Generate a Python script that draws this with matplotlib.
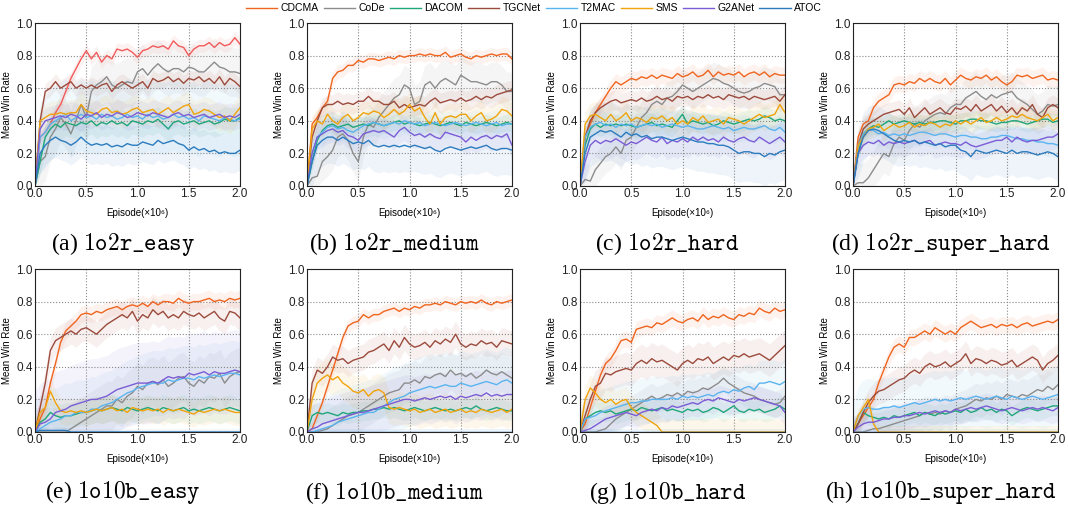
import numpy as np
import matplotlib
matplotlib.use("Agg")
import matplotlib.pyplot as plt

plt.rcParams["mathtext.fontset"] = "cm"
sans = ["Liberation Sans Narrow", "Liberation Sans", "DejaVu Sans"]

methods = ["CDCMA", "CoDe", "DACOM", "TGCNet", "T2MAC", "SMS", "G2ANet", "ATOC"]
colors = ["#f0641e", "#8c8c8c", "#1fa67a", "#9c4a3c", "#5ab4ef", "#f0a30a", "#7b5cd6", "#2b7bbf"]
episodes = np.linspace(0, 2.0, 41)  # x 10^6

# mean win rate in percent, one row per method (order as in `methods`)
r_easy = [
    [0, 30, 33, 38, 45, 50, 58, 66, 72, 78, 83, 78, 82, 76, 80, 78, 84, 83, 84, 82, 79, 83, 84, 86, 85, 86, 84, 89, 86, 85, 80, 84, 86, 86, 88, 85, 88, 86, 87, 91, 87],
    [0, 15, 18, 30, 35, 42, 38, 32, 40, 50, 42, 58, 62, 64, 67, 62, 60, 62, 64, 63, 70, 72, 68, 72, 75, 72, 70, 72, 72, 70, 73, 72, 70, 70, 73, 76, 73, 72, 70, 70, 69],
    [0, 15, 30, 35, 38, 36, 39, 38, 37, 39, 38, 40, 37, 39, 38, 40, 38, 39, 37, 40, 39, 38, 40, 39, 41, 38, 35, 39, 40, 38, 39, 40, 38, 39, 40, 38, 39, 41, 40, 40, 42],
    [0, 40, 58, 60, 64, 60, 62, 64, 60, 62, 60, 62, 60, 62, 63, 58, 62, 64, 62, 60, 62, 64, 60, 66, 64, 65, 67, 64, 66, 63, 66, 65, 67, 64, 66, 63, 67, 62, 66, 64, 61],
    [0, 30, 33, 38, 40, 42, 44, 40, 42, 44, 42, 43, 41, 44, 42, 43, 41, 42, 44, 42, 43, 41, 44, 42, 43, 41, 42, 44, 42, 43, 41, 42, 40, 43, 42, 41, 40, 42, 41, 40, 41],
    [0, 40, 42, 44, 44, 45, 44, 45, 45, 50, 46, 45, 44, 47, 48, 45, 46, 44, 45, 47, 48, 45, 46, 47, 44, 46, 48, 45, 47, 49, 50, 44, 45, 47, 46, 44, 42, 43, 40, 44, 48],
    [0, 35, 40, 41, 42, 43, 42, 44, 43, 41, 44, 43, 45, 42, 44, 43, 45, 44, 42, 43, 45, 44, 43, 45, 44, 43, 42, 44, 45, 43, 44, 42, 43, 44, 42, 43, 44, 42, 43, 42, 44],
    [0, 20, 25, 28, 30, 28, 27, 25, 27, 30, 27, 25, 26, 25, 26, 24, 25, 24, 26, 25, 25, 27, 26, 25, 28, 26, 27, 28, 26, 25, 22, 24, 22, 23, 21, 22, 20, 21, 20, 20, 22],
]
r_easy_sd = [4, 15, 8, 5, 22, 8, 8, 12]

r_medium = [
    [0, 38, 42, 48, 52, 66, 70, 71, 74, 74, 77, 76, 78, 78, 77, 78, 79, 78, 80, 79, 80, 80, 81, 80, 81, 80, 80, 82, 79, 80, 81, 79, 78, 80, 79, 80, 81, 80, 81, 81, 78],
    [0, 5, 6, 15, 18, 22, 30, 32, 28, 20, 15, 30, 38, 36, 42, 46, 50, 54, 56, 62, 60, 50, 52, 62, 64, 60, 64, 66, 64, 62, 68, 66, 64, 64, 63, 62, 64, 64, 62, 58, 58],
    [0, 15, 28, 34, 37, 38, 36, 37, 38, 36, 37, 38, 37, 39, 38, 37, 38, 39, 40, 38, 39, 38, 37, 38, 39, 38, 37, 38, 39, 38, 37, 39, 38, 37, 38, 39, 38, 37, 38, 39, 38],
    [0, 30, 40, 48, 50, 50, 52, 50, 51, 50, 52, 52, 55, 52, 52, 50, 50, 52, 48, 50, 48, 49, 50, 49, 52, 54, 51, 52, 53, 52, 54, 52, 53, 55, 53, 55, 54, 56, 57, 58, 59],
    [0, 20, 30, 33, 36, 37, 35, 36, 34, 33, 35, 37, 38, 39, 38, 37, 38, 39, 38, 40, 39, 38, 39, 37, 38, 39, 38, 37, 38, 39, 38, 37, 38, 39, 38, 37, 38, 39, 37, 38, 38],
    [0, 35, 40, 38, 44, 40, 38, 42, 44, 40, 42, 45, 44, 46, 45, 42, 44, 47, 44, 46, 50, 46, 48, 42, 38, 45, 38, 42, 43, 42, 44, 44, 40, 43, 45, 40, 41, 43, 47, 46, 43],
    [0, 20, 30, 32, 34, 35, 33, 34, 31, 30, 28, 32, 33, 34, 33, 34, 32, 30, 34, 36, 33, 31, 32, 30, 32, 30, 29, 33, 32, 31, 30, 27, 30, 28, 30, 31, 29, 31, 30, 32, 25],
    [0, 15, 25, 28, 30, 30, 28, 30, 28, 26, 27, 26, 28, 25, 24, 25, 24, 25, 24, 25, 24, 25, 24, 23, 24, 22, 21, 23, 24, 23, 22, 23, 24, 23, 24, 25, 23, 22, 23, 23, 22],
]
r_medium_sd = [4, 12, 5, 6, 8, 8, 8, 16]

r_hard = [
    [0, 30, 38, 45, 50, 55, 60, 64, 62, 64, 66, 65, 67, 66, 68, 66, 68, 67, 66, 69, 67, 68, 70, 67, 68, 71, 67, 70, 68, 69, 68, 70, 67, 69, 70, 68, 70, 67, 69, 68, 68],
    [0, 4, 3, 10, 14, 18, 20, 24, 20, 28, 30, 36, 42, 45, 50, 52, 50, 54, 55, 58, 62, 60, 58, 60, 62, 64, 66, 65, 63, 62, 60, 58, 57, 58, 60, 61, 63, 62, 61, 56, 56],
    [0, 25, 35, 38, 36, 38, 37, 38, 37, 38, 37, 36, 37, 38, 39, 37, 38, 37, 36, 40, 44, 38, 40, 39, 38, 39, 37, 38, 40, 39, 38, 39, 40, 41, 40, 41, 43, 42, 40, 41, 40],
    [0, 30, 40, 45, 48, 50, 52, 53, 51, 52, 53, 52, 54, 52, 53, 55, 53, 54, 52, 55, 54, 55, 53, 55, 54, 56, 54, 55, 53, 56, 55, 54, 55, 53, 55, 54, 53, 54, 55, 52, 56],
    [0, 30, 36, 38, 39, 37, 38, 36, 38, 37, 38, 36, 37, 38, 37, 38, 36, 37, 38, 37, 36, 37, 36, 35, 35, 36, 37, 36, 35, 36, 34, 35, 36, 35, 35, 36, 37, 35, 34, 36, 33],
    [0, 38, 43, 44, 42, 40, 44, 40, 42, 45, 40, 42, 41, 39, 42, 41, 43, 40, 42, 38, 40, 38, 42, 40, 43, 39, 40, 41, 38, 42, 41, 40, 38, 40, 42, 44, 42, 43, 44, 50, 45],
    [0, 15, 25, 28, 26, 28, 27, 29, 27, 25, 27, 26, 28, 30, 28, 27, 30, 26, 28, 27, 29, 27, 30, 28, 30, 28, 29, 27, 30, 28, 27, 29, 30, 28, 27, 30, 28, 26, 28, 30, 27],
    [0, 20, 30, 32, 34, 33, 34, 32, 30, 33, 31, 32, 30, 31, 29, 30, 30, 29, 28, 29, 30, 29, 28, 27, 27, 26, 26, 25, 25, 24, 22, 20, 21, 21, 20, 20, 18, 20, 19, 21, 22],
]
r_hard_sd = [5, 10, 6, 6, 8, 8, 10, 18]

r_super = [
    [0, 30, 38, 40, 48, 52, 54, 56, 62, 63, 62, 64, 63, 66, 64, 66, 64, 63, 66, 62, 65, 68, 66, 65, 67, 66, 68, 65, 67, 64, 62, 64, 68, 67, 68, 66, 67, 68, 65, 66, 65],
    [0, 2, 2, 5, 10, 15, 20, 18, 26, 30, 28, 34, 38, 36, 40, 42, 44, 45, 44, 48, 50, 50, 54, 56, 58, 55, 53, 56, 54, 56, 57, 58, 54, 52, 50, 47, 44, 46, 50, 49, 50],
    [0, 20, 32, 35, 37, 36, 38, 40, 38, 39, 40, 39, 38, 39, 38, 39, 39, 40, 40, 39, 38, 40, 40, 41, 41, 40, 40, 39, 38, 39, 39, 40, 40, 39, 38, 39, 40, 41, 41, 39, 40],
    [0, 25, 35, 38, 40, 42, 44, 45, 46, 47, 44, 48, 42, 45, 48, 44, 46, 48, 45, 44, 48, 47, 49, 46, 50, 46, 48, 50, 46, 49, 45, 48, 44, 48, 46, 50, 44, 42, 48, 50, 48],
    [0, 25, 32, 35, 34, 32, 33, 31, 32, 31, 32, 31, 32, 33, 33, 32, 31, 32, 32, 31, 30, 31, 31, 30, 30, 29, 29, 30, 30, 31, 31, 30, 29, 29, 28, 28, 27, 27, 26, 26, 25],
    [0, 25, 30, 35, 36, 38, 34, 36, 38, 36, 37, 39, 36, 38, 37, 39, 38, 36, 38, 37, 40, 38, 40, 38, 40, 42, 39, 40, 42, 40, 41, 43, 42, 44, 42, 41, 40, 42, 44, 40, 42],
    [0, 20, 25, 27, 26, 28, 25, 27, 26, 27, 26, 27, 28, 26, 27, 28, 25, 26, 27, 26, 26, 25, 27, 25, 24, 25, 26, 27, 28, 28, 30, 27, 30, 28, 27, 28, 28, 29, 30, 30, 32],
    [0, 20, 30, 34, 35, 34, 32, 30, 28, 27, 28, 27, 28, 26, 27, 26, 25, 26, 24, 25, 25, 22, 21, 18, 22, 21, 20, 21, 22, 21, 20, 22, 20, 21, 21, 20, 19, 20, 21, 20, 18],
]
r_super_sd = [5, 12, 5, 6, 8, 6, 8, 15]

b_easy = [
    [0, 8, 15, 30, 42, 55, 62, 65, 68, 72, 73, 72, 74, 73, 75, 76, 77, 75, 77, 78, 77, 79, 77, 80, 78, 80, 80, 79, 82, 80, 79, 80, 80, 81, 82, 80, 81, 80, 82, 81, 82],
    [0, 0, 0, 0, 0, 0, 0, 2, 4, 6, 8, 10, 12, 14, 16, 16, 20, 18, 22, 24, 28, 26, 30, 31, 29, 32, 28, 30, 33, 34, 30, 28, 32, 30, 34, 33, 36, 30, 34, 36, 37],
    [0, 6, 8, 12, 10, 9, 10, 10, 11, 12, 12, 13, 14, 13, 14, 15, 14, 13, 15, 14, 13, 14, 15, 14, 13, 15, 14, 13, 14, 15, 13, 14, 13, 14, 15, 14, 13, 14, 15, 14, 13],
    [0, 15, 30, 50, 56, 58, 60, 62, 60, 63, 64, 62, 60, 63, 66, 68, 70, 72, 70, 74, 68, 72, 70, 75, 72, 74, 70, 72, 70, 74, 72, 71, 73, 70, 72, 74, 70, 68, 74, 73, 70],
    [0, 2, 4, 6, 7, 8, 10, 10, 12, 12, 12, 14, 14, 16, 17, 18, 20, 22, 24, 25, 27, 28, 29, 30, 30, 30, 32, 31, 32, 33, 33, 32, 34, 33, 34, 35, 34, 35, 36, 36, 35],
    [0, 12, 15, 25, 18, 13, 12, 13, 12, 13, 12, 13, 14, 13, 14, 15, 13, 14, 12, 15, 14, 13, 14, 13, 14, 12, 14, 13, 14, 13, 12, 11, 13, 12, 13, 14, 13, 14, 13, 12, 12],
    [0, 5, 6, 8, 12, 13, 14, 16, 17, 18, 19, 20, 20, 21, 22, 24, 26, 27, 28, 29, 30, 30, 30, 31, 30, 32, 34, 33, 34, 33, 36, 35, 36, 37, 35, 37, 36, 36, 37, 38, 37],
    [0, 1, 1, 1, 1, 1, 1] + [0] * 34,
]
b_easy_sd = [5, 15, 8, 8, 20, 8, 25, 2]

b_medium = [
    [0, 2, 10, 18, 28, 38, 48, 58, 65, 67, 68, 72, 70, 72, 72, 74, 75, 76, 74, 76, 75, 77, 76, 78, 78, 79, 78, 80, 79, 78, 80, 79, 80, 79, 81, 79, 78, 80, 79, 80, 81],
    [0, 0, 0, 1, 2, 4, 6, 8, 10, 11, 12, 14, 16, 18, 20, 22, 24, 25, 26, 30, 30, 32, 30, 34, 33, 35, 36, 34, 38, 35, 36, 34, 36, 33, 35, 38, 36, 35, 37, 35, 33],
    [0, 10, 12, 11, 12, 11, 10, 12, 11, 12, 12, 13, 13, 14, 14, 15, 14, 15, 14, 13, 14, 15, 14, 13, 14, 15, 14, 13, 14, 13, 14, 15, 14, 16, 14, 13, 14, 15, 14, 13, 13],
    [0, 30, 38, 36, 40, 46, 44, 45, 42, 44, 45, 46, 49, 50, 52, 54, 50, 56, 52, 58, 54, 52, 53, 55, 52, 56, 54, 57, 55, 60, 54, 52, 54, 53, 56, 54, 55, 52, 56, 55, 54],
    [0, 0, 1, 2, 3, 4, 6, 7, 8, 9, 10, 11, 12, 12, 14, 16, 18, 20, 21, 22, 24, 25, 26, 27, 28, 27, 28, 29, 28, 28, 30, 29, 28, 29, 30, 31, 30, 29, 31, 32, 30],
    [0, 20, 30, 33, 35, 32, 34, 30, 28, 25, 24, 26, 22, 25, 26, 24, 15, 14, 15, 14, 13, 14, 12, 13, 14, 12, 13, 14, 12, 13, 14, 12, 13, 12, 14, 13, 12, 13, 14, 12, 14],
    [0, 2, 3, 5, 6, 7, 8, 9, 10, 11, 12, 12, 13, 14, 15, 16, 17, 18, 19, 20, 20, 19, 20, 21, 20, 21, 22, 21, 22, 20, 22, 21, 22, 23, 22, 24, 22, 23, 22, 23, 23],
    [0] * 41,
]
b_medium_sd = [4, 12, 6, 8, 20, 10, 15, 2]

b_hard = [
    [0, 5, 15, 25, 35, 42, 45, 50, 56, 57, 55, 63, 64, 65, 64, 67, 66, 68, 70, 68, 67, 69, 70, 68, 72, 69, 71, 70, 72, 70, 69, 72, 71, 73, 72, 76, 74, 73, 76, 74, 75],
    [0, 0, 0, 0, 1, 2, 5, 8, 10, 12, 14, 16, 18, 20, 22, 20, 21, 23, 22, 24, 22, 25, 24, 25, 27, 26, 28, 30, 33, 30, 28, 26, 24, 23, 22, 20, 19, 18, 17, 18, 22],
    [0, 8, 10, 12, 13, 12, 13, 11, 12, 13, 14, 13, 15, 14, 13, 14, 15, 13, 14, 13, 12, 14, 13, 14, 12, 13, 15, 14, 12, 14, 16, 13, 12, 14, 13, 14, 12, 13, 14, 16, 14],
    [0, 10, 20, 28, 30, 36, 35, 37, 38, 39, 38, 42, 44, 42, 45, 43, 44, 42, 40, 38, 42, 44, 42, 45, 44, 46, 42, 44, 46, 44, 47, 46, 48, 46, 47, 48, 46, 44, 47, 50, 53],
    [0, 8, 9, 10, 12, 13, 14, 15, 16, 17, 18, 18, 19, 19, 20, 20, 20, 20, 21, 20, 22, 21, 22, 21, 22, 23, 22, 24, 25, 24, 26, 25, 27, 28, 26, 30, 30, 31, 30, 29, 31],
    [0, 20, 27, 24, 20, 18, 20, 17, 19, 20, 15, 12, 10, 8, 6, 4] + [0] * 25,
    [0, 1, 2, 4, 6, 8, 9, 10, 11, 12, 11, 10, 12, 13, 14, 13, 15, 14, 16, 15, 16, 17, 18, 17, 19, 20, 19, 21, 20, 19, 18, 20, 19, 20, 21, 20, 19, 18, 17, 16, 12],
    [0] * 41,
]
b_hard_sd = [5, 8, 6, 10, 14, 8, 8, 2]

b_super = [
    [0, 5, 10, 15, 20, 30, 38, 46, 52, 54, 52, 58, 58, 60, 62, 60, 64, 62, 60, 62, 60, 64, 66, 68, 66, 64, 65, 66, 64, 66, 65, 66, 64, 66, 67, 65, 66, 67, 68, 67, 69],
    [0, 0, 0, 1, 2, 2, 3, 4, 5, 6, 7, 8, 9, 10, 12, 11, 12, 11, 13, 12, 14, 15, 16, 18, 20, 19, 21, 20, 22, 20, 23, 22, 21, 23, 22, 24, 26, 25, 28, 26, 29],
    [0, 5, 12, 10, 9, 8, 9, 8, 10, 9, 10, 11, 12, 10, 12, 11, 10, 12, 11, 12, 13, 12, 14, 12, 13, 15, 13, 14, 12, 14, 13, 10, 12, 14, 15, 14, 13, 14, 15, 16, 16],
    [0, 5, 12, 18, 22, 25, 26, 28, 30, 32, 33, 36, 38, 36, 40, 42, 40, 41, 43, 40, 42, 44, 48, 42, 45, 44, 42, 44, 43, 41, 42, 44, 40, 42, 44, 46, 44, 38, 42, 44, 47],
    [0, 10, 14, 15, 14, 14, 15, 15, 16, 15, 16, 17, 18, 17, 18, 19, 20, 19, 20, 19, 20, 21, 20, 21, 22, 21, 20, 21, 22, 21, 20, 22, 21, 20, 21, 22, 21, 20, 21, 22, 23],
    [0, 10, 15, 20, 5] + [0] * 36,
    [0, 3, 5, 6, 6, 7, 8, 8, 9, 9, 10, 10, 11, 12, 11, 12, 13, 12, 13, 12, 14, 13, 14, 15, 14, 15, 16, 15, 14, 13, 14, 15, 14, 13, 14, 15, 14, 15, 14, 13, 15],
    [0] * 41,
]
b_super_sd = [5, 10, 6, 8, 18, 4, 8, 2]

panels = [
    ("(a)", r"1o2r\_easy", r_easy, r_easy_sd),
    ("(b)", r"1o2r\_medium", r_medium, r_medium_sd),
    ("(c)", r"1o2r\_hard", r_hard, r_hard_sd),
    ("(d)", r"1o2r\_super\_hard", r_super, r_super_sd),
    ("(e)", r"1o10b\_easy", b_easy, b_easy_sd),
    ("(f)", r"1o10b\_medium", b_medium, b_medium_sd),
    ("(g)", r"1o10b\_hard", b_hard, b_hard_sd),
    ("(h)", r"1o10b\_super\_hard", b_super, b_super_sd),
]

W, H = 1068, 507
fig = plt.figure(figsize=(W / 100, H / 100), dpi=100)
lefts = [35, 307, 580, 853]
tops = [23, 269]
aw, ah = 205, 163
cap_y = [244, 493]

handles = []
for i, (tag, name, runs, sds) in enumerate(panels):
    row, col = divmod(i, 4)
    ax = fig.add_axes([lefts[col] / W, 1 - (tops[row] + ah) / H, aw / W, ah / H])
    for k in range(len(methods)):
        y = np.array(runs[k]) / 100
        sd = sds[k] / 100
        c = colors[k]
        if i == 0 and k == 0:
            c = "#f25a5a"  # panel (a) draws CDCMA in red
        ax.fill_between(episodes, np.clip(y - sd, 0, 1), np.clip(y + sd, 0, 1),
                        color=c, alpha=0.08, lw=0)
        ln, = ax.plot(episodes, y, color=c, lw=1.0)
        if i == 1:
            handles.append(ln)

    ax.set_xlim(0, 2.0)
    ax.set_ylim(0, 1.0)
    ax.set_xticks([0, 0.5, 1.0, 1.5, 2.0])
    ax.set_yticks([0, 0.2, 0.4, 0.6, 0.8, 1.0])
    ax.set_xticklabels(["0.0", "0.5", "1.0", "1.5", "2.0"], family=sans)
    ax.set_yticklabels(["0.0", "0.2", "0.4", "0.6", "0.8", "1.0"], family=sans)
    ax.tick_params(length=0, pad=1.5, labelsize=8.5, colors="#222222")
    ax.grid(True, ls=":", color="#888888", lw=0.8)
    for s in ax.spines.values():
        s.set_color("#222222")
        s.set_linewidth(0.8)
    ax.set_xlabel("Episode(×10⁶)", family=sans, fontsize=7, labelpad=6)
    ax.set_ylabel("Mean Win Rate", family=sans, fontsize=7, labelpad=3)

    cx = (lefts[col] + aw / 2 - 15) / W
    fig.text(cx, 1 - cap_y[row] / H, tag + r" $\mathtt{" + name + "}$",
             family="Liberation Serif", fontsize=17, ha="center", va="center")

fig.legend(handles, methods, loc="upper center", bbox_to_anchor=(0.5, 1.012), ncol=8,
           frameon=False, handlelength=3.0, handletextpad=0.35, columnspacing=0.45,
           prop={"family": sans, "size": 7.5})

fig.savefig("out.png", dpi=100)
